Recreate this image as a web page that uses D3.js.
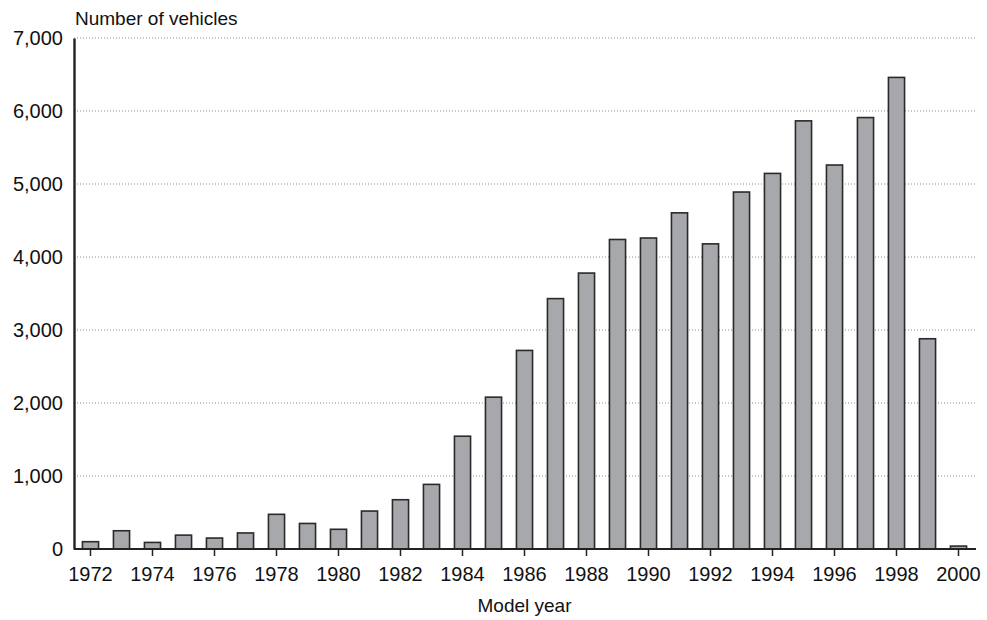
<!DOCTYPE html>
<html>
<head>
<meta charset="utf-8">
<script src="https://cdn.jsdelivr.net/npm/d3@7/dist/d3.min.js"></script>
<style>
  html, body { margin: 0; padding: 0; background: #fff; }
  svg { display: block; }
  text { font-family: "Liberation Sans", Arial, Helvetica, sans-serif; fill: #111; }
</style>
</head>
<body>
<svg id="chart" width="987" height="620"></svg>
<script>
// Vehicle counts by model year
const years = [1972, 1973, 1974, 1975, 1976, 1977, 1978, 1979, 1980, 1981,
               1982, 1983, 1984, 1985, 1986, 1987, 1988, 1989, 1990, 1991,
               1992, 1993, 1994, 1995, 1996, 1997, 1998, 1999, 2000];
const vehicles = [100, 250, 90, 190, 150, 220, 475, 350, 270, 520,
                  675, 885, 1545, 2080, 2720, 3430, 3780, 4240, 4260, 4605,
                  4180, 4890, 5145, 5865, 5260, 5910, 6460, 2880, 40];
const yTicks = [0, 1000, 2000, 3000, 4000, 5000, 6000, 7000];
const xTickYears = [1972, 1974, 1976, 1978, 1980, 1982, 1984, 1986, 1988, 1990,
                    1992, 1994, 1996, 1998, 2000];
const yTitle = "Number of vehicles";
const xTitle = "Model year";

const svg = d3.select("#chart");
const plotLeft = 74, plotRight = 975, plotTop = 38, plotBottom = 549;

const x = d3.scaleBand()
  .domain(years)
  .range([plotLeft + 1, plotRight - 1])
  .paddingInner(0.48)
  .paddingOuter(0.24);

const y = d3.scaleLinear()
  .domain([0, 7000])
  .range([plotBottom, plotTop]);

// dotted horizontal gridlines
svg.append("g")
  .selectAll("line")
  .data(yTicks.filter(d => d > 0))
  .join("line")
  .attr("x1", plotLeft)
  .attr("x2", plotRight)
  .attr("y1", d => y(d))
  .attr("y2", d => y(d))
  .attr("stroke", "#8a8a8a")
  .attr("stroke-width", 1)
  .attr("stroke-dasharray", "1,2");

// bars
svg.append("g")
  .selectAll("rect")
  .data(years.map((yr, i) => ({ yr, v: vehicles[i] })))
  .join("rect")
  .attr("x", d => x(d.yr))
  .attr("width", x.bandwidth())
  .attr("y", d => y(d.v))
  .attr("height", d => y(0) - y(d.v))
  .attr("fill", "#a7a8ac")
  .attr("stroke", "#2a2a2a")
  .attr("stroke-width", 1.6);

// x axis
const xAxis = svg.append("g")
  .attr("transform", `translate(0,${plotBottom})`)
  .call(d3.axisBottom(x)
    .tickValues(xTickYears)
    .tickSize(7)
    .tickSizeOuter(0)
    .tickPadding(11));
xAxis.select(".domain")
  .attr("d", `M${plotLeft},0H${plotRight + 1}`)
  .attr("stroke", "#222")
  .attr("stroke-width", 2.2);
xAxis.selectAll(".tick line").attr("stroke", "#222").attr("stroke-width", 1.5);
xAxis.selectAll(".tick text")
  .attr("font-size", "20px")
  .attr("font-family", "'Liberation Sans', Arial, sans-serif")
  .attr("fill", "#111");

// y axis
const yAxis = svg.append("g")
  .attr("transform", `translate(${plotLeft},0)`)
  .call(d3.axisLeft(y)
    .tickValues(yTicks)
    .tickSize(0)
    .tickPadding(11)
    .tickFormat(d3.format(",")));
yAxis.select(".domain")
  .attr("stroke", "#222")
  .attr("stroke-width", 2.4);
yAxis.selectAll(".tick text")
  .attr("font-size", "20px")
  .attr("font-family", "'Liberation Sans', Arial, sans-serif")
  .attr("fill", "#111");

// axis titles
svg.append("text")
  .attr("x", plotLeft + 1)
  .attr("y", 25)
  .attr("font-size", "19px")
  .text(yTitle);

svg.append("text")
  .attr("x", (plotLeft + plotRight) / 2)
  .attr("y", 612)
  .attr("text-anchor", "middle")
  .attr("font-size", "19px")
  .text(xTitle);
</script>
</body>
</html>
